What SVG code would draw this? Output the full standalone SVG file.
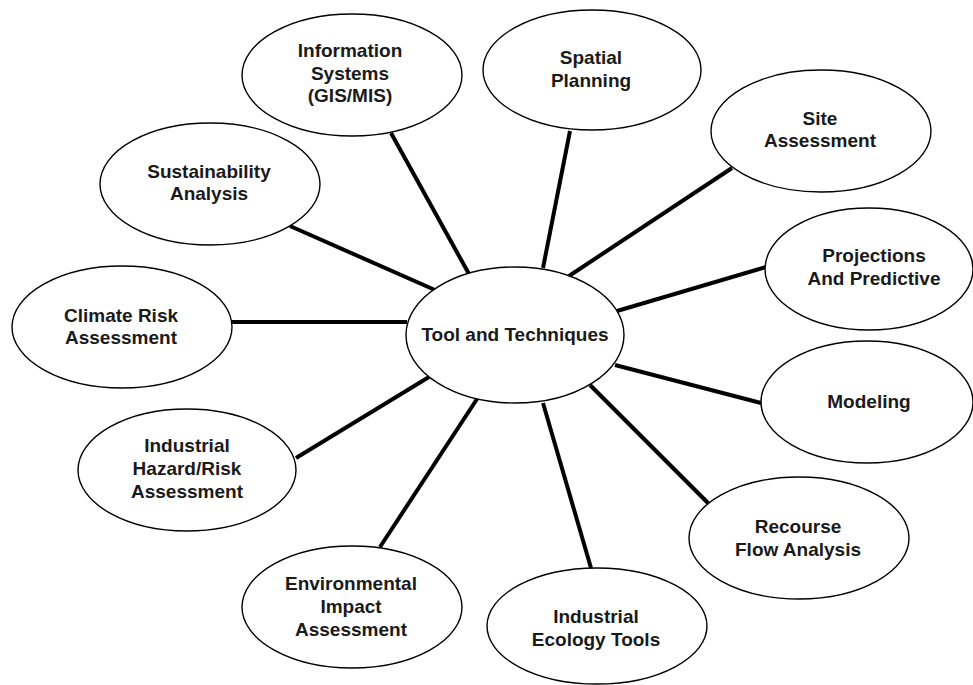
<svg xmlns="http://www.w3.org/2000/svg" width="973" height="685" viewBox="0 0 973 685">
<style>
.n ellipse{fill:#fff;stroke:#000;stroke-width:1.4}
.n text{font-family:"Liberation Sans",Arial,sans-serif;font-weight:bold;font-size:19px;fill:#1a1a1a;text-anchor:middle}
#edges line{stroke:#000;stroke-width:4;stroke-linecap:butt}
</style>
<rect width="973" height="685" fill="#fff"/>
<g id="edges">
<line x1="391" y1="133" x2="469" y2="274"/>
<line x1="290" y1="226" x2="435" y2="290"/>
<line x1="232" y1="322" x2="407" y2="322"/>
<line x1="296" y1="458" x2="429" y2="377"/>
<line x1="380" y1="547" x2="477" y2="399"/>
<line x1="591" y1="568" x2="543" y2="403"/>
<line x1="708" y1="503" x2="590" y2="385"/>
<line x1="761" y1="403" x2="615" y2="365"/>
<line x1="766" y1="267" x2="617" y2="311"/>
<line x1="732" y1="168" x2="569" y2="276"/>
<line x1="570" y1="131" x2="543" y2="268"/>
</g>
<g id="center" class="n"><ellipse cx="515" cy="335" rx="109" ry="68"/><text x="515" y="341">Tool and Techniques</text></g>
<g id="info" class="n"><ellipse cx="352" cy="75" rx="110" ry="61"/><text x="350" y="57">Information</text><text x="350" y="80">Systems</text><text x="350" y="102">(GIS/MIS)</text></g>
<g id="spatial" class="n"><ellipse cx="592" cy="70" rx="109" ry="60"/><text x="591" y="64">Spatial</text><text x="591" y="87">Planning</text></g>
<g id="site" class="n"><ellipse cx="821" cy="131" rx="110" ry="61"/><text x="820" y="125">Site</text><text x="820" y="147">Assessment</text></g>
<g id="projections" class="n"><ellipse cx="869" cy="269" rx="104" ry="61"/><text x="874" y="262">Projections</text><text x="874" y="285">And Predictive</text></g>
<g id="modeling" class="n"><ellipse cx="867" cy="402" rx="106" ry="61"/><text x="869" y="408">Modeling</text></g>
<g id="recourse" class="n"><ellipse cx="799" cy="538" rx="110" ry="61"/><text x="798" y="533">Recourse</text><text x="798" y="556">Flow Analysis</text></g>
<g id="ecology" class="n"><ellipse cx="597" cy="626" rx="110" ry="58"/><text x="596" y="623">Industrial</text><text x="596" y="646">Ecology Tools</text></g>
<g id="eia" class="n"><ellipse cx="352" cy="607" rx="110" ry="61"/><text x="351" y="590">Environmental</text><text x="351" y="613">Impact</text><text x="351" y="636">Assessment</text></g>
<g id="hazard" class="n"><ellipse cx="187" cy="470" rx="109" ry="61"/><text x="187" y="452">Industrial</text><text x="187" y="475">Hazard/Risk</text><text x="187" y="498">Assessment</text></g>
<g id="climate" class="n"><ellipse cx="122" cy="327" rx="110" ry="61"/><text x="121" y="322">Climate Risk</text><text x="121" y="344">Assessment</text></g>
<g id="sustain" class="n"><ellipse cx="210" cy="184" rx="110" ry="61"/><text x="209" y="178">Sustainability</text><text x="209" y="200">Analysis</text></g>
</svg>
